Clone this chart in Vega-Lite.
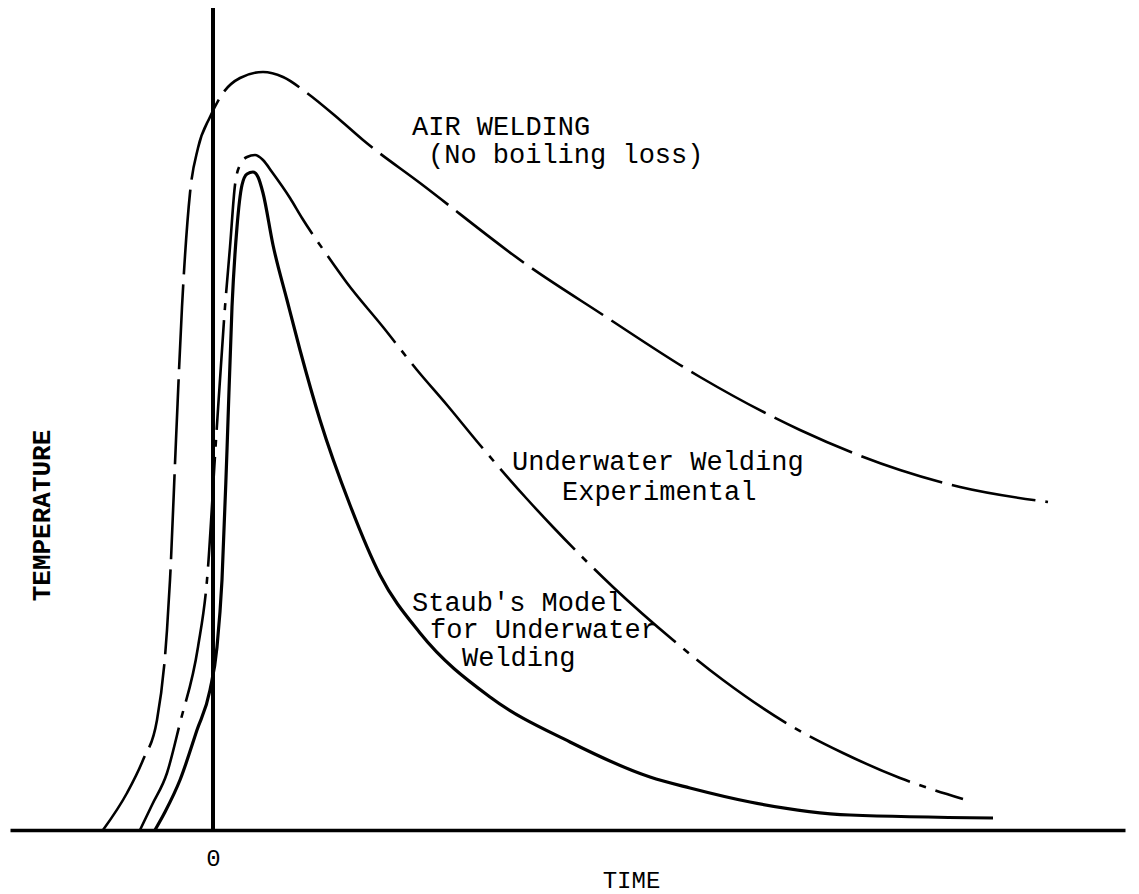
{
  "$schema": "https://vega.github.io/schema/vega-lite/v6.json",
  "width": 1115,
  "height": 822,
  "autosize": "none",
  "padding": {"left": 10, "top": 8, "right": 14, "bottom": 64},
  "background": "white",
  "view": {"stroke": null},
  "config": {"font": "Liberation Mono"},
  "datasets": {
    "curves": [
      {"series": "air", "t": -110, "temp": 0},
      {"series": "air", "t": -86, "temp": 37},
      {"series": "air", "t": -70, "temp": 70},
      {"series": "air", "t": -56, "temp": 110},
      {"series": "air", "t": -46, "temp": 200},
      {"series": "air", "t": -43, "temp": 250},
      {"series": "air", "t": -37, "temp": 390},
      {"series": "air", "t": -31, "temp": 523},
      {"series": "air", "t": -23, "temp": 637},
      {"series": "air", "t": -15, "temp": 682},
      {"series": "air", "t": -3, "temp": 713},
      {"series": "air", "t": 10, "temp": 737},
      {"series": "air", "t": 27, "temp": 752},
      {"series": "air", "t": 50, "temp": 758},
      {"series": "air", "t": 70, "temp": 753},
      {"series": "air", "t": 94, "temp": 737},
      {"series": "air", "t": 127, "temp": 710},
      {"series": "air", "t": 150, "temp": 690},
      {"series": "air", "t": 207, "temp": 647},
      {"series": "air", "t": 317, "temp": 563},
      {"series": "air", "t": 387, "temp": 517},
      {"series": "air", "t": 487, "temp": 453},
      {"series": "air", "t": 587, "temp": 400},
      {"series": "air", "t": 687, "temp": 360},
      {"series": "air", "t": 747, "temp": 343},
      {"series": "air", "t": 835, "temp": 328},
      {"series": "exp", "t": -73, "temp": 0},
      {"series": "exp", "t": -61, "temp": 25},
      {"series": "exp", "t": -46, "temp": 57},
      {"series": "exp", "t": -33, "temp": 107},
      {"series": "exp", "t": -15, "temp": 183},
      {"series": "exp", "t": -6, "temp": 250},
      {"series": "exp", "t": 3, "temp": 390},
      {"series": "exp", "t": 12, "temp": 523},
      {"series": "exp", "t": 17, "temp": 583},
      {"series": "exp", "t": 22, "temp": 645},
      {"series": "exp", "t": 27, "temp": 665},
      {"series": "exp", "t": 34, "temp": 673},
      {"series": "exp", "t": 42, "temp": 675},
      {"series": "exp", "t": 50, "temp": 670},
      {"series": "exp", "t": 59, "temp": 658},
      {"series": "exp", "t": 77, "temp": 632},
      {"series": "exp", "t": 89, "temp": 612},
      {"series": "exp", "t": 114, "temp": 575},
      {"series": "exp", "t": 134, "temp": 547},
      {"series": "exp", "t": 170, "temp": 503},
      {"series": "exp", "t": 204, "temp": 460},
      {"series": "exp", "t": 234, "temp": 425},
      {"series": "exp", "t": 267, "temp": 385},
      {"series": "exp", "t": 314, "temp": 331},
      {"series": "exp", "t": 340, "temp": 303},
      {"series": "exp", "t": 400, "temp": 243},
      {"series": "exp", "t": 460, "temp": 190},
      {"series": "exp", "t": 510, "temp": 150},
      {"series": "exp", "t": 580, "temp": 103},
      {"series": "exp", "t": 630, "temp": 77},
      {"series": "exp", "t": 687, "temp": 52},
      {"series": "exp", "t": 750, "temp": 31},
      {"series": "staub", "t": -58, "temp": 0},
      {"series": "staub", "t": -48, "temp": 18},
      {"series": "staub", "t": -33, "temp": 50},
      {"series": "staub", "t": -16, "temp": 100},
      {"series": "staub", "t": -3, "temp": 140},
      {"series": "staub", "t": 4, "temp": 183},
      {"series": "staub", "t": 9, "temp": 250},
      {"series": "staub", "t": 14, "temp": 380},
      {"series": "staub", "t": 19, "temp": 523},
      {"series": "staub", "t": 24, "temp": 603},
      {"series": "staub", "t": 29, "temp": 645},
      {"series": "staub", "t": 34, "temp": 656},
      {"series": "staub", "t": 40, "temp": 658},
      {"series": "staub", "t": 45, "temp": 653},
      {"series": "staub", "t": 50, "temp": 637},
      {"series": "staub", "t": 60, "temp": 585},
      {"series": "staub", "t": 74, "temp": 530},
      {"series": "staub", "t": 87, "temp": 480},
      {"series": "staub", "t": 107, "temp": 410},
      {"series": "staub", "t": 137, "temp": 325},
      {"series": "staub", "t": 167, "temp": 255},
      {"series": "staub", "t": 207, "temp": 197},
      {"series": "staub", "t": 277, "temp": 133},
      {"series": "staub", "t": 357, "temp": 88},
      {"series": "staub", "t": 437, "temp": 53},
      {"series": "staub", "t": 477, "temp": 42},
      {"series": "staub", "t": 537, "temp": 28},
      {"series": "staub", "t": 637, "temp": 15},
      {"series": "staub", "t": 780, "temp": 12}
    ],
    "labels": [
      {"label": "AIR WELDING", "t": 199, "temp": 703},
      {"label": "(No boiling loss)", "t": 215, "temp": 675},
      {"label": "Underwater Welding", "t": 299, "temp": 368},
      {"label": "Experimental", "t": 349, "temp": 338},
      {"label": "Staub's Model", "t": 199, "temp": 227},
      {"label": "for Underwater", "t": 217, "temp": 200},
      {"label": "Welding", "t": 249, "temp": 172}
    ],
    "zero": [{"t": 0}]
  },
  "layer": [
    {
      "data": {"name": "zero"},
      "mark": {"type": "rule", "color": "black", "strokeWidth": 4},
      "encoding": {
        "x": {
          "field": "t",
          "type": "quantitative",
          "scale": {"domain": [-203, 912], "nice": false, "zero": false},
          "axis": {
            "values": [0],
            "ticks": false,
            "grid": false,
            "domainColor": "black",
            "domainWidth": 3.5,
            "labelFontSize": 24,
            "labelColor": "black",
            "labelBaseline": "middle",
            "labelPadding": 28,
            "labelDx": 7,
            "title": "TIME",
            "titleFont": "Liberation Mono",
            "titleFontSize": 24,
            "titleFontWeight": "normal",
            "titleColor": "black",
            "titleBaseline": "middle",
            "titleX": 621,
            "titleY": 50
          }
        }
      }
    },
    {
      "data": {"name": "curves"},
      "transform": [{"filter": "datum.series === 'air'"}],
      "mark": {"type": "line", "color": "black", "strokeWidth": 2.6, "interpolate": "monotone", "strokeDash": [85, 10]},
      "encoding": {
        "x": {"field": "t", "type": "quantitative"},
        "y": {
          "field": "temp",
          "type": "quantitative",
          "scale": {"domain": [0, 822], "nice": false},
          "axis": {
            "domain": false,
            "ticks": false,
            "labels": false,
            "grid": false,
            "title": "TEMPERATURE",
            "titleFont": "Liberation Mono",
            "titleFontSize": 26,
            "titleFontWeight": "bold",
            "titleColor": "black",
            "titleBaseline": "middle",
            "titleX": 31,
            "titleY": 507
          }
        }
      }
    },
    {
      "data": {"name": "curves"},
      "transform": [{"filter": "datum.series === 'exp'"}],
      "mark": {"type": "line", "color": "black", "strokeWidth": 2.6, "interpolate": "monotone", "strokeDash": [110, 10, 7, 10]},
      "encoding": {
        "x": {"field": "t", "type": "quantitative"},
        "y": {"field": "temp", "type": "quantitative"}
      }
    },
    {
      "data": {"name": "curves"},
      "transform": [{"filter": "datum.series === 'staub'"}],
      "mark": {"type": "line", "color": "black", "strokeWidth": 3.2, "interpolate": "monotone"},
      "encoding": {
        "x": {"field": "t", "type": "quantitative"},
        "y": {"field": "temp", "type": "quantitative"}
      }
    },
    {
      "data": {"name": "labels"},
      "mark": {"type": "text", "align": "left", "baseline": "middle", "font": "Liberation Mono", "fontSize": 27, "color": "black"},
      "encoding": {
        "x": {"field": "t", "type": "quantitative"},
        "y": {"field": "temp", "type": "quantitative"},
        "text": {"field": "label"}
      }
    }
  ]
}
